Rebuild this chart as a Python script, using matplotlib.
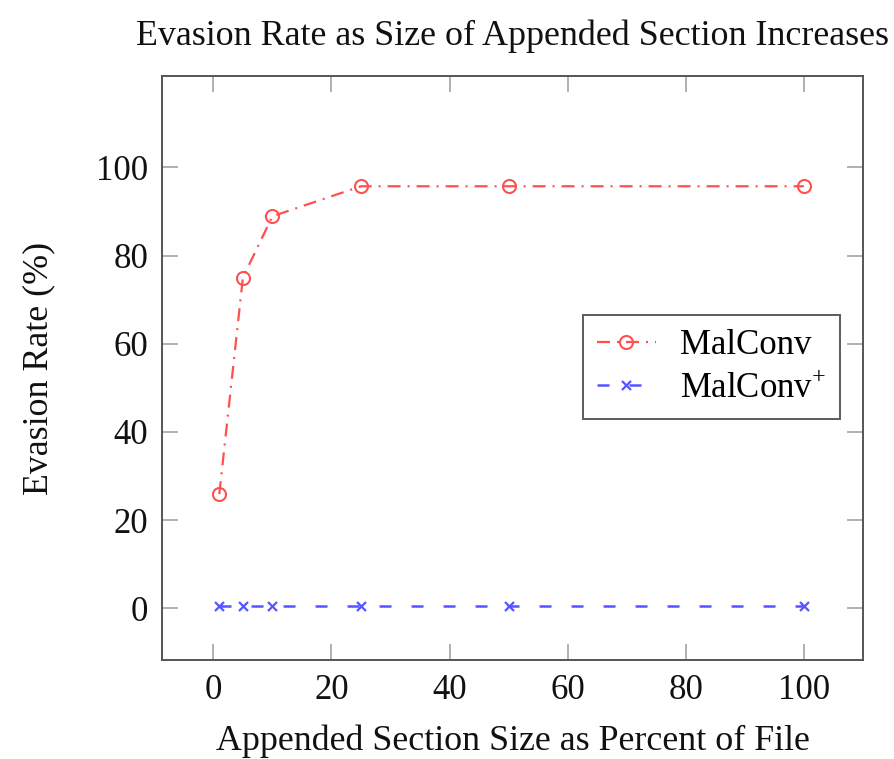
import matplotlib
matplotlib.use("Agg")
import matplotlib.pyplot as plt

# Data
x_vals = [1, 5, 10, 25, 50, 100]
malconv = [25.9, 75.0, 88.9, 95.7, 95.7, 95.7]
malconv_plus = [0.6, 0.6, 0.6, 0.6, 0.6, 0.6]
x_ticks = [0, 20, 40, 60, 80, 100]
y_ticks = [0, 20, 40, 60, 80, 100]

plt.rcParams['font.family'] = ['Liberation Serif', 'DejaVu Serif']
plt.rcParams['mathtext.fontset'] = 'custom'
plt.rcParams['mathtext.rm'] = 'Liberation Serif'
plt.rcParams['lines.scale_dashes'] = False

fig = plt.figure(figsize=(8.94, 7.59), dpi=100)
ax = fig.add_axes([162/894, 1 - 660/759, (863-162)/894, (660-76)/759])

px = 72/100.0  # points per pixel
red = '#ff5050'
blue = '#5555ff'

ax.plot(x_vals, malconv, color=red, lw=1.6, dashes=(13*px, 7*px, 2*px, 7*px),
        marker='o', mfc='none', mec=red, ms=13*px, mew=1.5, label='MalConv')
ax.plot(x_vals, malconv_plus, color=blue, lw=1.8, dashes=(12*px, 20*px),
        marker='x', mec=blue, ms=9*px, mew=1.6, label='MalConv$^{+}$')

ax.set_xlim(-8.7, 110.0)
ax.set_ylim(-11.7, 120.7)
ax.set_xticks(x_ticks)
ax.set_yticks(y_ticks)

for s in ax.spines.values():
    s.set_color('#555555')
    s.set_linewidth(1.4)

ax.tick_params(direction='in', length=16*px, width=1.3, color='#aaaaaa',
               top=True, right=True, labelsize=25, pad=10, labelcolor='#111111')

ax.set_title('Evasion Rate as Size of Appended Section Increases', fontsize=25.9, pad=22, color='#111111')
ax.set_xlabel('Appended Section Size as Percent of File', fontsize=25.8, labelpad=13, color='#111111')
ax.set_ylabel('Evasion Rate (%)', fontsize=25.8, labelpad=29, color='#111111')

leg = ax.legend(loc='upper right', bbox_to_anchor=(0.967, 0.591), fontsize=25,
                frameon=True, fancybox=False, handlelength=1.7, borderpad=0.4,
                labelspacing=0.3, handletextpad=0.7, borderaxespad=0)
leg.get_frame().set_edgecolor('#333333')
leg.get_frame().set_linewidth(1.4)

fig.savefig('out.png', dpi=100)
